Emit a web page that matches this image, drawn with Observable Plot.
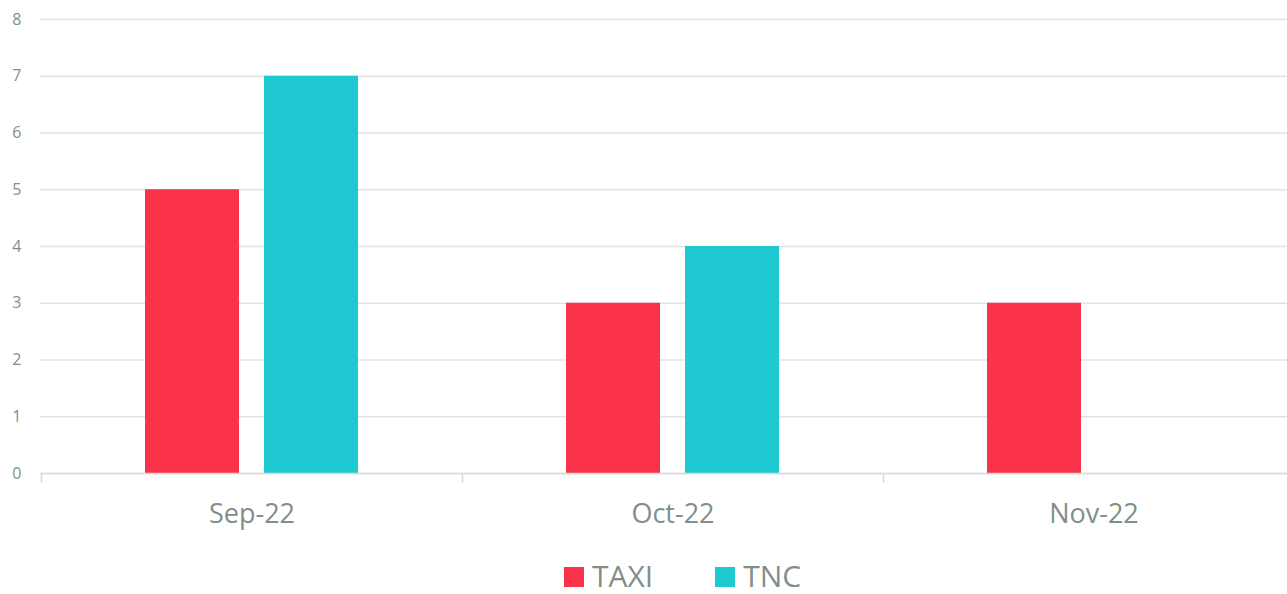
<!DOCTYPE html>
<html>
<head>
<meta charset="utf-8">
<script src="https://cdn.jsdelivr.net/npm/d3@7"></script>
<script src="https://cdn.jsdelivr.net/npm/@observablehq/plot@0.6"></script>
<style>
  html, body { margin: 0; padding: 0; background: #fff; overflow: hidden; }
  #wrap { position: relative; width: 1287px; height: 594px; font-family: "Open Sans", sans-serif; }
  #legend { position: absolute; top: 559px; left: 564px; display: flex; align-items: center; color: #7f8f89; font-size: 30px; line-height: 34px; }
  .item { display: flex; align-items: center; }
  .item + .item { margin-left: 62px; }
  .sw { width: 20px; height: 20px; margin-right: 8px; margin-top: 2px; }
</style>
</head>
<body>
<div id="wrap"></div>
<script>
const months = ["Sep-22", "Oct-22", "Nov-22"];
const taxi = [5, 3, 3];
const tnc = [7, 4, 0];
const seriesNames = ["TAXI", "TNC"];
const seriesColors = ["#fa334a", "#1fc9d2"];
const yTicks = [0, 1, 2, 3, 4, 5, 6, 7, 8];

const taxiData = months.map((m, i) => ({month: m, value: taxi[i]}));
const tncData = months.map((m, i) => ({month: m, value: tnc[i]}));

const textColor = "#7f8f89";
const chart = Plot.plot({
  width: 1287,
  height: 545,
  marginLeft: 40,
  marginTop: 19,
  marginBottom: 72,
  marginRight: 0,
  style: { fontFamily: "Open Sans, sans-serif", overflow: "visible" },
  x: { domain: months, range: [40, 1304], padding: 0, label: null },
  y: { domain: [0, 8], label: null },
  marks: [
    Plot.gridY(yTicks, { stroke: "#e3e3e3", strokeOpacity: 1, strokeWidth: 1.5 }),
    Plot.axisY(yTicks, { tickSize: 0, tickPadding: 19, fontSize: 16, fill: textColor, tickFormat: d => d }),
    Plot.axisX({ tickSize: 0, tickPadding: 30, fontSize: 27, fill: textColor }),
    Plot.barY(taxiData, { x: "month", y: "value", fill: seriesColors[0], insetLeft: 104, insetRight: 223 }),
    Plot.barY(tncData, { x: "month", y: "value", fill: seriesColors[1], insetLeft: 223, insetRight: 104 }),
    Plot.ruleY([0], { stroke: "#d9d9d9", strokeWidth: 1.5 }),
    Plot.ruleX(months, { x: d => d, y1: 0, y2: 0, dx: -210.5, insetBottom: -10, stroke: "#d9d9d9", strokeWidth: 1.5 })
  ]
});
const wrap = document.getElementById("wrap");
wrap.appendChild(chart);

const legend = document.createElement("div");
legend.id = "legend";
seriesNames.forEach((name, i) => {
  const item = document.createElement("div");
  item.className = "item";
  const sw = document.createElement("span");
  sw.className = "sw";
  sw.style.background = seriesColors[i];
  const t = document.createElement("span");
  t.textContent = name;
  item.appendChild(sw);
  item.appendChild(t);
  legend.appendChild(item);
});
wrap.appendChild(legend);
</script>
</body>
</html>
